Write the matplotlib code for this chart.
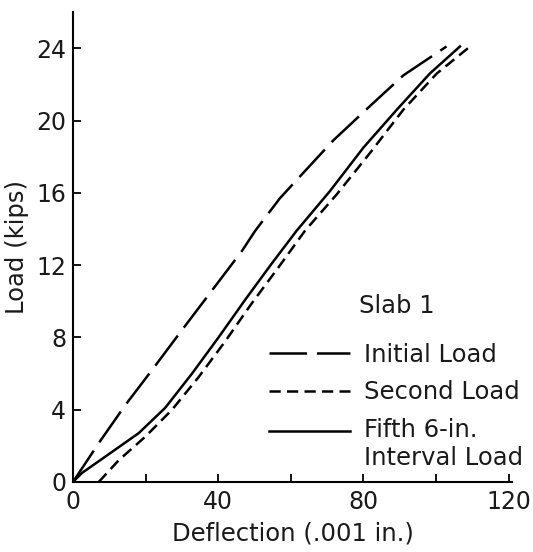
import matplotlib
import matplotlib.pyplot as plt
import numpy as np

matplotlib.use('AGG')

# Slab 1 load-deflection readings (deflection in .001 in., load in kips)
initial_defl = [0, 7.1, 14.4, 21.8, 30, 38.3, 46.6, 50.2, 57, 62.5, 71.7, 81.8, 91, 102.9]
initial_load = [0, 2.15, 4.25, 6.2, 8.4, 10.6, 12.8, 13.9, 15.7, 16.9, 18.9, 20.8, 22.5, 24.1]

second_defl = [7.1, 12.6, 19.9, 27.3, 34.6, 42, 49.3, 56.7, 63.9, 72.6, 81.8, 91, 100.2, 109.4]
second_load = [0, 1.2, 2.5, 4.0, 5.8, 7.8, 9.9, 11.9, 13.9, 15.9, 18.2, 20.6, 22.6, 24.1]

fifth_defl = [0, 2.5, 8.9, 18.1, 25.4, 32.8, 40.1, 47.5, 54.8, 61.6, 70.8, 80, 89.2, 98.3, 106.6]
fifth_load = [0, 0.5, 1.4, 2.7, 4.1, 6.0, 8.0, 10.1, 12.1, 13.9, 16.1, 18.5, 20.6, 22.6, 24.1]

x_major = [0, 40, 80, 120]
x_minor = [20, 60, 100]
y_ticks = [0, 4, 8, 12, 16, 20, 24]

plt.rcParams['font.family'] = ['DejaVu Sans']
text_color = '#1a1a1a'

fig = plt.figure(figsize=(5.33, 5.52), dpi=100)
ax = fig.add_axes([0.137, 0.127, 0.824, 0.851])

ax.plot(initial_defl, initial_load, color='black', lw=1.8,
        linestyle=(0, (15, 4)), label='Initial Load')
ax.plot(second_defl, second_load, color='black', lw=1.8,
        linestyle=(0, (4.5, 2.5)), label='Second Load')
ax.plot(fifth_defl, fifth_load, color='black', lw=1.8,
        label='Fifth 6-in.\nInterval Load')

ax.set_xlim(0, 121)
ax.set_ylim(0, 26)
ax.set_xticks(x_major)
ax.set_xticks(x_minor, minor=True)
ax.set_yticks(y_ticks)
ax.tick_params(which='both', direction='in', length=6, width=1.3,
               color='black', labelcolor=text_color, labelsize=17)
ax.tick_params(axis='x', pad=6)
ax.tick_params(axis='y', pad=5)

for side in ['top', 'right']:
    ax.spines[side].set_visible(False)
for side in ['left', 'bottom']:
    ax.spines[side].set_linewidth(1.5)

ax.set_xlabel("Deflection (.001 in.)", color=text_color, fontsize=17.5, labelpad=5)
ax.set_ylabel("Load (kips)", color=text_color, fontsize=17.5, labelpad=5)

leg = ax.legend(title='Slab 1', loc='lower right', bbox_to_anchor=(1.075, -0.022),
                frameon=False, handlelength=3.3, handletextpad=0.6,
                labelspacing=0.55, fontsize=17.5, title_fontsize=17.5)
for t in leg.get_texts():
    t.set_color(text_color)
leg.get_title().set_color(text_color)
leg.get_texts()[2].set_linespacing(1.25)
# a bit more room under the title, and put the solid sample beside the first line
leg._legend_box.sep = 18
solid = leg.legend_handles[2]
solid.set_ydata(np.asarray(solid.get_ydata()) + 10)

plt.savefig('out.png', dpi=100)
